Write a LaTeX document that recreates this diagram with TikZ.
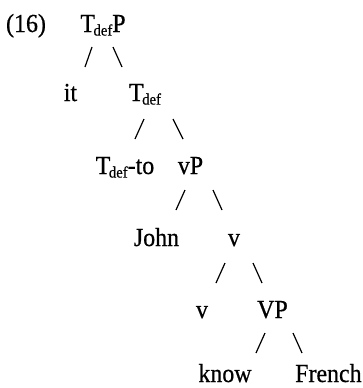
\documentclass[tikz,border=0pt]{standalone}
\usepackage{fontspec}
\setmainfont{Liberation Serif}[FakeStretch=0.92,FakeBold=0.6]
\newcommand\Tdef{T\kern-1.5pt\raisebox{-0.3ex}{\fontsize{16}{16}\selectfont def}}
\begin{document}
\begin{tikzpicture}[x=1pt,y=1pt,
  lbl/.style={anchor=base,inner sep=0pt,font=\fontsize{26}{26}\selectfont},
  lblw/.style={lbl,anchor=base west},
  sl/.style={line width=1.2pt}]
\useasboundingbox (0,0) rectangle (362,-388);
% row 1
\node[lbl] (ex) at (26,-32) {(16)};
\node[lbl] (tdefp) at (103,-32) {\Tdef P};
% row 2
\node[lbl] (it) at (70.5,-101) {it};
\node[lbl] (tdef) at (145,-101) {\Tdef};
% row 3
\node[lbl] (tdefto) at (125,-174) {\Tdef{}-to};
\node[lbl] (vP) at (190.5,-174) {vP};
% row 4
\node[lbl] (john) at (156.5,-246) {John};
\node[lbl] (vbar) at (234,-246) {v};
% row 5
\node[lbl] (v) at (202,-318) {v};
\node[lbl] (VP) at (272.5,-318) {VP};
% row 6
\node[lbl] (know) at (225,-382) {know};
\node[lblw] (french) at (295,-382) {French};
% slashes
\coordinate (a1) at (92,-47);  \coordinate (b1) at (85,-67);
\coordinate (c1) at (113,-47); \coordinate (d1) at (122,-67);
\coordinate (a2) at (144,-119); \coordinate (b2) at (135,-139);
\coordinate (c2) at (173,-119); \coordinate (d2) at (183,-139);
\coordinate (a3) at (185,-190); \coordinate (b3) at (176,-210);
\coordinate (c3) at (213,-190); \coordinate (d3) at (222,-210);
\coordinate (a4) at (225,-263); \coordinate (b4) at (216,-283);
\coordinate (c4) at (253,-263); \coordinate (d4) at (262,-283);
\coordinate (a5) at (265,-333); \coordinate (b5) at (256,-353);
\coordinate (c5) at (293,-333); \coordinate (d5) at (302,-353);
\foreach \i in {1,...,5} {
  \draw[sl] (a\i) -- (b\i);
  \draw[sl] (c\i) -- (d\i);
}
\end{tikzpicture}
\end{document}
